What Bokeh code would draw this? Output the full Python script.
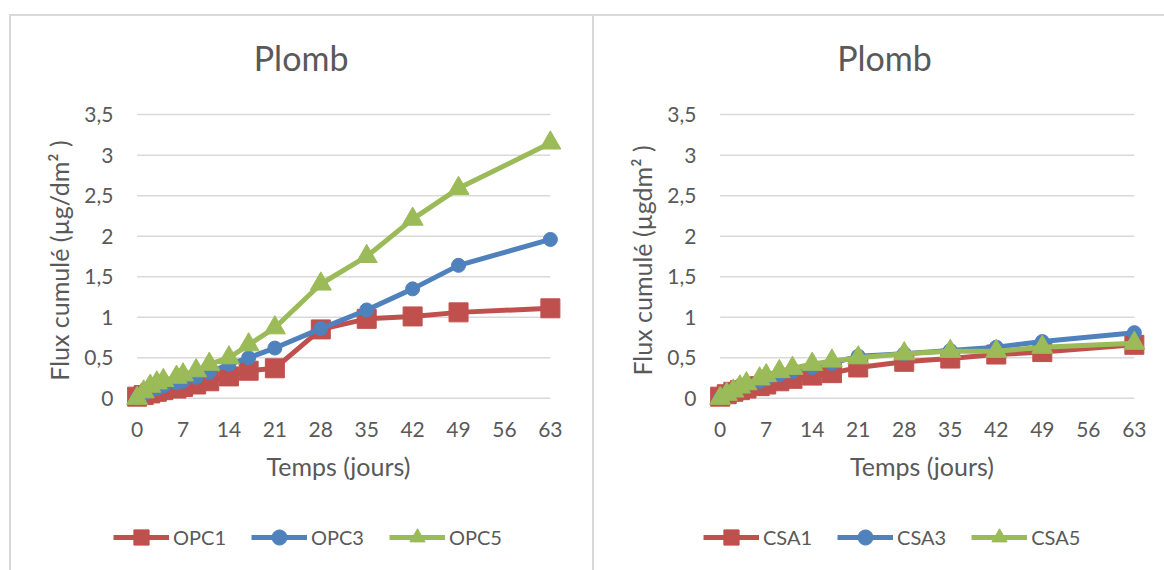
from bokeh.plotting import figure
from bokeh.models import Range1d, FixedTicker, Legend, LegendItem
from bokeh.layouts import row, column
from bokeh.core.properties import value
from bokeh.embed import file_html
from bokeh.resources import INLINE

# ---------------- data ----------------
days = [0, 1, 2, 3, 4, 6, 7, 9, 11, 14, 17, 21, 28, 35, 42, 49, 63]

opc1 = [0.02, 0.04, 0.06, 0.08, 0.10, 0.12, 0.14, 0.17, 0.21, 0.27, 0.34, 0.37, 0.85, 0.98, 1.01, 1.06, 1.11]
opc3 = [0.00, 0.05, 0.09, 0.12, 0.15, 0.19, 0.21, 0.26, 0.32, 0.42, 0.50, 0.62, 0.86, 1.09, 1.35, 1.64, 1.96]
opc5 = [0.00, 0.08, 0.15, 0.19, 0.22, 0.26, 0.29, 0.34, 0.42, 0.50, 0.66, 0.87, 1.41, 1.75, 2.21, 2.59, 3.15]

csa1 = [0.02, 0.05, 0.08, 0.10, 0.12, 0.15, 0.17, 0.21, 0.24, 0.28, 0.31, 0.38, 0.45, 0.49, 0.54, 0.57, 0.66]
csa3 = [0.00, 0.06, 0.10, 0.13, 0.16, 0.21, 0.24, 0.29, 0.33, 0.38, 0.43, 0.52, 0.55, 0.59, 0.63, 0.70, 0.81]
csa5 = [0.00, 0.05, 0.09, 0.14, 0.18, 0.24, 0.28, 0.33, 0.37, 0.42, 0.46, 0.50, 0.55, 0.58, 0.58, 0.63, 0.68]

names_left = ["OPC1", "OPC3", "OPC5"]
names_right = ["CSA1", "CSA3", "CSA5"]

x_ticks = [0, 7, 14, 21, 28, 35, 42, 49, 56, 63]
y_ticks = [0, 0.5, 1, 1.5, 2, 2.5, 3, 3.5]
y_tick_labels = ["0", "0,5", "1", "1,5", "2", "2,5", "3", "3,5"]

title_text = "Plomb"
x_label = "Temps (jours)"
y_label_left = "Flux cumulé (µg/dm² )"
y_label_right = "Flux cumulé (µgdm² )"

# ---------------- style ----------------
FONT = "Lato"
TXT = "#595959"
GRID = "#D9D9D9"
COLORS = ["#C0504D", "#4F81BD", "#9BBB59"]
MARKERS = ["square", "circle", "triangle"]
SIZES = [19, 14, 21]
LW = 5
H_TITLE = 74
H_MAIN = 410
H_LEG = 70
X_RANGE = (-3.6, 65)
Y_RANGE = (-0.2, 3.6)
TITLE_X = 25


def base_fig(width, height, mb_left, mb_right, y_range, **kw):
    f = figure(width=width, height=height, x_range=Range1d(*X_RANGE), y_range=Range1d(*y_range),
               output_backend="svg", toolbar_location=None,
               min_border_left=mb_left, min_border_right=mb_right, **kw)
    f.outline_line_color = None
    f.background_fill_color = "white"
    f.border_fill_color = "white"
    return f


def make_title(width, mb_left, mb_right):
    t = base_fig(width, H_TITLE, mb_left, mb_right, (0, H_TITLE), title=None,
                 x_axis_location=None, y_axis_location=None,
                 min_border_top=0, min_border_bottom=0)
    t.grid.visible = False
    t.text(x=[TITLE_X], y=[H_TITLE - 41], text=[title_text], text_align="center",
           text_baseline="middle", text_font=value(FONT), text_font_size="34px",
           text_color=TXT)
    return t


def make_main(width, mb_left, mb_right, series, ylabel):
    p = base_fig(width, H_MAIN, mb_left, mb_right, Y_RANGE, min_border_top=16, min_border_bottom=86)
    p.xgrid.visible = False
    p.ygrid.visible = False

    # horizontal gridlines spanning the value axis (0..63)
    p.segment(x0=[x_ticks[0]] * len(y_ticks), x1=[x_ticks[-1]] * len(y_ticks),
              y0=y_ticks, y1=y_ticks, line_color=GRID, line_width=1.5)

    for vals, col, mk, sz in zip(series, COLORS, MARKERS, SIZES):
        p.line(days, vals, line_color=col, line_width=LW, line_join="round")
        p.scatter(days, vals, marker=mk, size=sz, fill_color=col, line_color=col)

    for ax in (p.xaxis[0], p.yaxis[0]):
        ax.axis_line_color = None
        ax.major_tick_line_color = None
        ax.minor_tick_line_color = None
        ax.major_tick_out = 0
        ax.major_tick_in = 0
        ax.minor_tick_out = 0
        ax.major_label_text_font = FONT
        ax.major_label_text_font_size = "21px"
        ax.major_label_text_color = TXT
        ax.axis_label_text_font = FONT
        ax.axis_label_text_font_size = "25px"
        ax.axis_label_text_font_style = "normal"
        ax.axis_label_text_color = TXT

    p.xaxis.ticker = FixedTicker(ticks=x_ticks)
    p.xaxis.major_label_standoff = 7
    p.xaxis.axis_label = x_label
    p.xaxis.axis_label_standoff = 11

    p.yaxis.ticker = FixedTicker(ticks=y_ticks)
    p.yaxis.major_label_overrides = dict(zip(y_ticks, y_tick_labels))
    p.yaxis.major_label_standoff = 0
    p.yaxis.axis_label = ylabel
    p.yaxis.axis_label_standoff = 7
    return p


def make_legend(width, mb_left, mb_right, series, names, leg_x):
    # series drawn far outside the visible y range: only the legend is seen
    q = base_fig(width, H_LEG, mb_left, mb_right, (100, 100 + H_LEG), title=None,
                 x_axis_location=None, y_axis_location=None,
                 min_border_top=0, min_border_bottom=0)
    q.grid.visible = False
    items = []
    for vals, name, col, mk in zip(series, names, COLORS, MARKERS):
        ln = q.line(days, vals, line_color=col, line_width=LW)
        sc = q.scatter(days, vals, marker=mk, fill_color=col, line_color=col)
        items.append(LegendItem(label=name, renderers=[ln, sc]))
    legend = Legend(items=items, orientation="horizontal", location=(leg_x, 14),
                    glyph_width=56, glyph_height=38, label_standoff=4, spacing=25,
                    padding=0, margin=0, border_line_color=None, background_fill_alpha=0,
                    label_text_font=FONT, label_text_font_size="20px", label_text_color=TXT)
    q.add_layout(legend)
    return q


def make_panel(width, mb_left, mb_right, series, names, ylabel, leg_x):
    t = make_title(width, mb_left, mb_right)
    p = make_main(width, mb_left, mb_right, series, ylabel)
    q = make_legend(width, mb_left, mb_right, series, names, leg_x)
    return column(t, p, q, spacing=0, margin=(2, 0, 0, 2),
                  styles={"background-color": "white"})


c1 = make_panel(581, 102, 29, [opc1, opc3, opc5], names_left, y_label_left, 0)
c2 = make_panel(570, 102, 17, [csa1, csa3, csa5], names_right, y_label_right, 7)

layout = row(c1, c2, spacing=0, margin=(14, 0, 0, 9),
             styles={"background-color": "#d9d9d9"})

open("out.html", "w").write(file_html(layout, INLINE))
